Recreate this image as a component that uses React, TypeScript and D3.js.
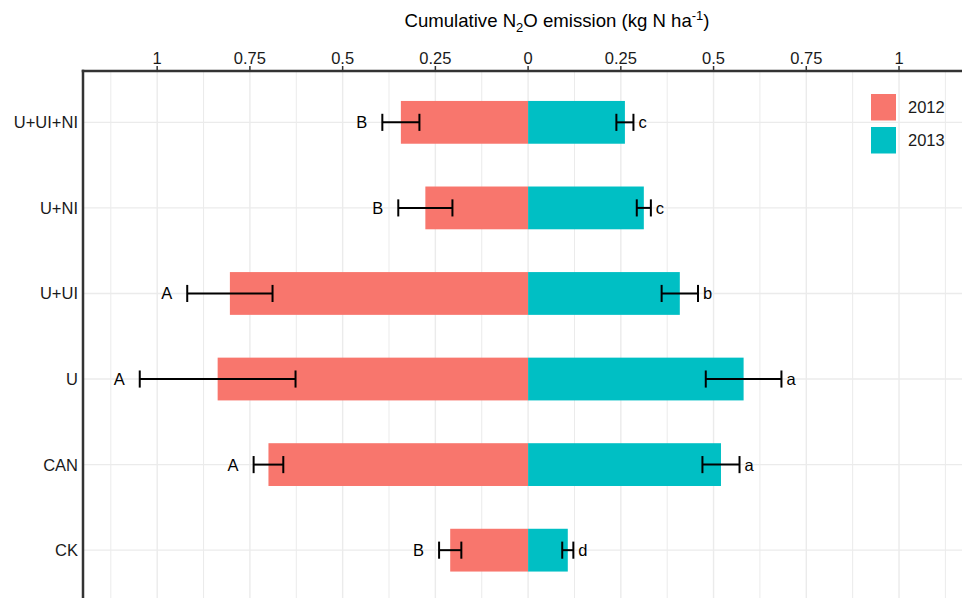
import React from 'react';
import * as d3 from 'd3';

// treatments, top to bottom
const categories = ['U+UI+NI', 'U+NI', 'U+UI', 'U', 'CAN', 'CK'];

// cumulative N2O (kg N ha-1) with standard errors
const mean2012 = [0.343, 0.277, 0.804, 0.837, 0.700, 0.210];
const se2012 = [0.050, 0.073, 0.115, 0.210, 0.040, 0.030];
const letters2012 = ['B', 'B', 'A', 'A', 'A', 'B'];

const mean2013 = [0.261, 0.312, 0.409, 0.581, 0.520, 0.107];
const se2013 = [0.023, 0.019, 0.049, 0.102, 0.050, 0.015];
const letters2013 = ['c', 'c', 'b', 'a', 'a', 'd'];

const tickValues = [-1, -0.75, -0.5, -0.25, 0, 0.25, 0.5, 0.75, 1];
const years = ['2012', '2013'];
const colors = ['#F8766D', '#00BFC4'];

const W = 962;
const H = 598;
const FONT = '"Liberation Sans", Arial, sans-serif';

export default function App() {
  const panel = { left: 83, top: 71, bottom: 601.5 };

  const x = d3.scaleLinear().domain([-1.2, 1.2]).range([panel.left, 973.2]);
  const y = d3.scaleBand<string>()
    .domain(categories)
    .range([panel.top, panel.bottom])
    .paddingInner(0)
    .paddingOuter(0.1);

  const step = y.step();
  const barH = step * 0.5;
  const capH = step * 0.2;
  const cy = (c: string) => (y(c) as number) + y.bandwidth() / 2;

  const minorTicks = d3.range(-9, 10, 2).map(i => i * 0.125);
  const fmt = (v: number) => String(Math.abs(v));

  const rows = categories.map((c, i) => ({
    cat: c,
    m12: mean2012[i], s12: se2012[i], l12: letters2012[i],
    m13: mean2013[i], s13: se2013[i], l13: letters2013[i],
  }));

  return (
    <svg width={W} height={H} style={{ position: 'absolute', left: 0, top: 0, background: '#fff' }}
      fontFamily={FONT}>
      <defs>
        <clipPath id="panel">
          <rect x={panel.left} y={panel.top} width={W - panel.left} height={H - panel.top} />
        </clipPath>
      </defs>

      <g clipPath="url(#panel)">
        {/* grid */}
        {minorTicks.map(v => (
          <line key={'mn' + v} x1={x(v)} x2={x(v)} y1={panel.top} y2={panel.bottom}
            stroke="#ebebeb" strokeWidth={1} />
        ))}
        {tickValues.map(v => (
          <line key={'mj' + v} x1={x(v)} x2={x(v)} y1={panel.top} y2={panel.bottom}
            stroke="#ebebeb" strokeWidth={1.4} />
        ))}
        {categories.map(c => (
          <line key={'h' + c} x1={panel.left} x2={W} y1={cy(c)} y2={cy(c)}
            stroke="#ebebeb" strokeWidth={1.4} />
        ))}

        {/* bars */}
        {rows.map(r => (
          <g key={'b' + r.cat}>
            <rect x={x(-r.m12)} y={cy(r.cat) - barH / 2} width={x(0) - x(-r.m12)} height={barH}
              fill={colors[0]} />
            <rect x={x(0)} y={cy(r.cat) - barH / 2} width={x(r.m13) - x(0)} height={barH}
              fill={colors[1]} />
          </g>
        ))}

        {/* error bars */}
        {rows.map(r => {
          const yy = cy(r.cat);
          const a12 = x(-r.m12 - r.s12), b12 = x(-r.m12 + r.s12);
          const a13 = x(r.m13 - r.s13), b13 = x(r.m13 + r.s13);
          return (
            <g key={'e' + r.cat} stroke="#000" strokeWidth={2}>
              <line x1={a12} x2={b12} y1={yy} y2={yy} />
              <line x1={a12} x2={a12} y1={yy - capH / 2} y2={yy + capH / 2} />
              <line x1={b12} x2={b12} y1={yy - capH / 2} y2={yy + capH / 2} />
              <line x1={a13} x2={b13} y1={yy} y2={yy} />
              <line x1={a13} x2={a13} y1={yy - capH / 2} y2={yy + capH / 2} />
              <line x1={b13} x2={b13} y1={yy - capH / 2} y2={yy + capH / 2} />
            </g>
          );
        })}

        {/* significance letters */}
        {rows.map(r => (
          <g key={'t' + r.cat} fontSize={16.5} fill="#000">
            <text x={x(-r.m12 - r.s12) - 15} y={cy(r.cat)} dy="0.36em" textAnchor="end">{r.l12}</text>
            <text x={x(r.m13 + r.s13) + 5} y={cy(r.cat)} dy="0.36em" textAnchor="start">{r.l13}</text>
          </g>
        ))}

        {/* legend */}
        {years.map((yr, i) => (
          <g key={'lg' + yr} transform={`translate(871, ${94 + i * 33})`}>
            <rect width={25} height={26.5} fill={colors[i]} />
            <text x={37} y={13.25} dy="0.36em" fontSize={16.5} fill="#1a1a1a">{yr}</text>
          </g>
        ))}
      </g>

      {/* axis lines */}
      <line x1={panel.left - 1.25} x2={W} y1={panel.top} y2={panel.top} stroke="#333" strokeWidth={2.5} />
      <line x1={panel.left} x2={panel.left} y1={panel.top - 1.25} y2={H} stroke="#333" strokeWidth={2.5} />

      {/* top ticks */}
      {tickValues.map(v => (
        <g key={'tk' + v}>
          <line x1={x(v)} x2={x(v)} y1={panel.top - 5} y2={panel.top} stroke="#333" strokeWidth={1.5} />
          <text x={x(v)} y={63.5} textAnchor="middle" fontSize={16.5} fill="#1a1a1a">{fmt(v)}</text>
        </g>
      ))}

      {/* y labels */}
      {categories.map(c => (
        <text key={'yl' + c} x={78} y={cy(c)} dy="0.36em" textAnchor="end" fontSize={16.5} fill="#1a1a1a">{c}</text>
      ))}

      {/* title */}
      <text x={557} y={27} textAnchor="middle" fontSize={18.6} fill="#000">
        Cumulative N<tspan fontSize={13} dy={4.5}>2</tspan>
        <tspan dy={-4.5}>O emission (kg N ha</tspan>
        <tspan fontSize={13} dy={-7}>-1</tspan>
        <tspan dy={7}>)</tspan>
      </text>
    </svg>
  );
}
